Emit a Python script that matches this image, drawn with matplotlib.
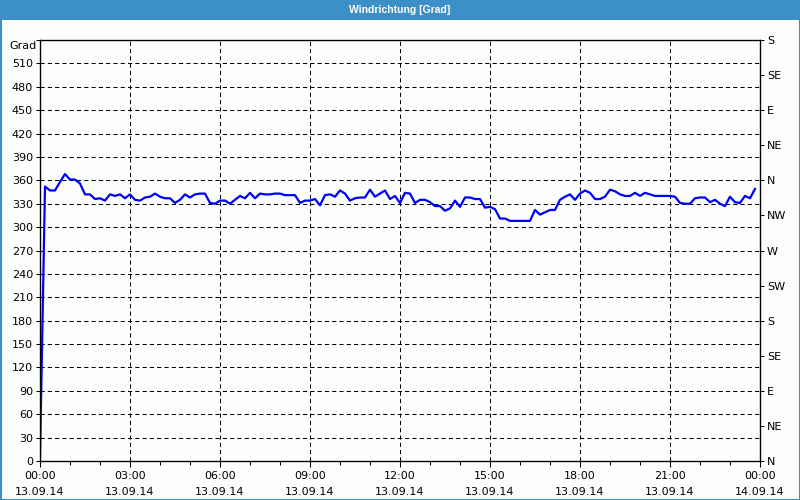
import numpy as np
import pandas as pd
import matplotlib
matplotlib.use('Agg')
import matplotlib.pyplot as plt
import matplotlib.dates as mdates
from matplotlib.patches import Rectangle

# wind direction, one value every 10 minutes, 13.09.14
richtung = [4, 352, 347, 347, 358, 368, 361, 361, 356, 342,
            342, 336, 337, 334, 342, 340, 342, 337, 342, 335,
            334, 338, 339, 343, 339, 337, 337, 331, 335, 342,
            338, 342, 343, 343, 331, 330, 334, 334, 330, 335,
            340, 337, 344, 337, 343, 342, 342, 343, 343, 341,
            341, 341, 331, 334, 334, 336, 328, 341, 342, 339,
            347, 343, 334, 337, 338, 338, 348, 339, 343, 347,
            336, 340, 331, 344, 343, 331, 335, 335, 332, 327,
            327, 321, 324, 334, 326, 338, 338, 336, 336, 325,
            326, 323, 311, 311, 308, 308, 308, 308, 308, 322,
            316, 319, 322, 322, 335, 339, 342, 335, 343, 347,
            344, 336, 336, 339, 348, 346, 342, 340, 340, 344,
            340, 344, 342, 340, 340, 340, 340, 339, 331, 330,
            330, 337, 338, 338, 332, 335, 330, 327, 339, 332,
            331, 340, 337, 349]
zeit = pd.date_range('2014-09-13 00:00', periods=len(richtung), freq='10min')

grad_ticks = list(range(0, 541, 30))
himmel_ticks = list(range(0, 541, 45))
himmel_labels = ['N', 'NE', 'E', 'SE', 'S', 'SW', 'W', 'NW', 'N', 'NE', 'E', 'SE', 'S']
x_start = pd.Timestamp('2014-09-13 00:00')
x_end = pd.Timestamp('2014-09-14 00:00')

bg = '#fcfefc'
blau = '#3c8fc7'

fig = plt.figure(figsize=(8, 5), dpi=100, facecolor=bg)
ax = fig.add_axes([40/800, 39/500, 720/800, 421/500])
ax.set_facecolor(bg)

ax.plot(zeit, richtung, color='#0000ff', lw=1.6, zorder=3)

ax.set_xlim(x_start, x_end)
ax.set_ylim(0, 540)
ax.set_yticks(grad_ticks)
ax.set_yticklabels([str(v) for v in grad_ticks[:-1]] + [''])

ax.xaxis.set_major_locator(mdates.HourLocator(byhour=range(0, 24, 3)))
ax.xaxis.set_minor_locator(mdates.HourLocator())
ax.xaxis.set_major_formatter(mdates.DateFormatter('%H:%M\n%d.%m.%y'))

ax.grid(True, which='major', color='black', lw=0.75, ls=(0, (4, 3)))
ax.tick_params(axis='both', which='both', direction='out', labelsize=8, width=0.75)
ax.tick_params(axis='y', length=3, pad=2)
ax.tick_params(axis='x', which='major', length=4, pad=3)
ax.tick_params(axis='x', which='minor', length=3)
for lbl in ax.get_xticklabels():
    lbl.set_linespacing(1.8)
for sp in ax.spines.values():
    sp.set_linewidth(0.9)
    sp.set_color('black')

ax2 = ax.twinx()
ax2.set_ylim(0, 540)
ax2.set_yticks(himmel_ticks)
ax2.set_yticklabels(himmel_labels)
ax2.tick_params(axis='y', direction='out', length=3, pad=2, labelsize=8, width=0.75)

ax.text(-0.005, 1 - 6/421, 'Grad', transform=ax.transAxes, ha='right', va='center', fontsize=8)

# title bar and frame
fig.patches.append(Rectangle((0, 480/500), 1, 20/500, transform=fig.transFigure,
                             facecolor=blau, edgecolor='none', zorder=0))
fig.patches.append(Rectangle((0.5/800, 0.5/500), 799/800, 499/500, transform=fig.transFigure,
                             facecolor='none', edgecolor=blau, lw=1.5, zorder=5))
fig.text(0.5, 490/500, 'Windrichtung [Grad]', color='white', fontsize=7.5, fontweight='bold',
         family='Liberation Sans', ha='center', va='center')

fig.savefig('out.png', dpi=100, facecolor=bg)
